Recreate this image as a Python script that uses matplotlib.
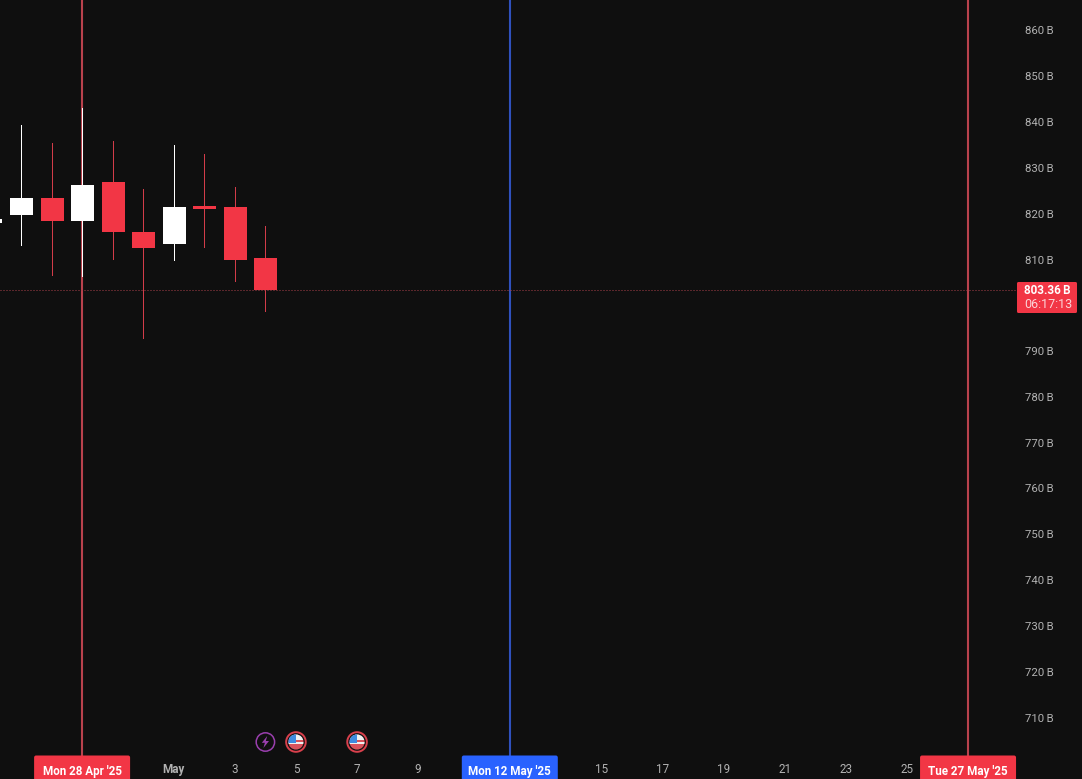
from datetime import datetime

import matplotlib
matplotlib.use("Agg")
import matplotlib.pyplot as plt
import matplotlib.dates as mdates
from matplotlib.patches import Circle, FancyBboxPatch, Polygon, Rectangle
from matplotlib.transforms import IdentityTransform

plt.rcParams["font.family"] = ["Roboto", "DejaVu Sans"]

# candles
dates = ["2025-04-25", "2025-04-26", "2025-04-27", "2025-04-28", "2025-04-29",
         "2025-04-30", "2025-05-01", "2025-05-02", "2025-05-03", "2025-05-04"]
opens = [818.0, 819.72, 823.43, 818.41, 826.92, 816.0, 813.38, 821.68, 821.46, 810.33]
closes = [818.8, 823.43, 818.41, 826.27, 816.0, 812.5, 821.46, 821.03, 809.9, 803.36]
highs = [818.8, 839.37, 835.44, 843.08, 835.87, 825.39, 835.0, 833.03, 825.83, 817.32]
lows = [818.0, 813.17, 806.62, 806.4, 810.1, 792.86, 809.9, 812.73, 805.3, 798.76]

last_price = 803.36
price_label = "803.36\u2009B"
countdown = "06:17:13"

# axis labels
price_ticks = [710, 720, 730, 740, 750, 760, 770, 780, 790, 810, 820, 830, 840, 850, 860]
time_ticks = ["2025-05-01", "2025-05-03", "2025-05-05", "2025-05-07", "2025-05-09",
              "2025-05-15", "2025-05-17", "2025-05-19", "2025-05-21", "2025-05-23", "2025-05-25"]
time_labels = ["May", "3", "5", "7", "9", "15", "17", "19", "21", "23", "25"]

# marked dates
marker_dates = ["2025-04-28", "2025-05-12", "2025-05-27"]
marker_labels = ["Mon 28 Apr '25", "Mon 12 May '25", "Tue 27 May '25"]
marker_colors = ["#f23645", "#2962ff", "#f23645"]
line_colors = ["#b9424d", "#2f51bd", "#b9424d"]

# events
power_dates = ["2025-05-04"]
flag_dates = ["2025-05-05", "2025-05-07"]

BG = "#0f0f0f"
RED = "#f23645"
WICK_RED = "#d23c49"
TEXT = "#b2b2b2"
SNAP = 0.0164  # half a pixel in days, thin lines land on the same pixel column as the target


def num(d):
    return mdates.date2num(datetime.fromisoformat(d))


fig = plt.figure(figsize=(10.82, 7.79), dpi=100, facecolor=BG)
ax = fig.add_axes([0, 0, 1, 1], facecolor=BG)

x0 = num("2025-04-28")
ax.set_xlim(x0 - 82.6 / 30.55, x0 + (1082 - 82.6) / 30.55)
ax.set_ylim(860 - 748.5 / 4.58, 860 + 30.5 / 4.58)

for d, c in zip(marker_dates, line_colors):
    ax.axvline(num(d) - SNAP, color=c, linewidth=1.5, zorder=2)

for d, o, c, h, l in zip(dates, opens, closes, highs, lows):
    up = c >= o
    ax.vlines(num(d) - SNAP, l, h, color="white" if up else WICK_RED, linewidth=0.72, zorder=3,
              antialiased=False)
    ax.bar(num(d), abs(c - o), bottom=min(o, c), width=0.753, color="white" if up else RED,
           linewidth=0, zorder=3)

price_line = ax.axhline(last_price, xmax=1017 / 1082, color="#a8404a", linewidth=0.72,
                        linestyle=(0, (1, 2)), zorder=4)
price_line.set_snap(True)

ax.yaxis.tick_right()
ax.set_yticks(price_ticks)
ax.set_yticklabels([f"{p}\u2009B" for p in price_ticks])
ax.tick_params(axis="y", length=0, pad=-41, labelsize=8.2, labelcolor=TEXT)
for lab in ax.get_yticklabels():
    lab.set_horizontalalignment("left")

ax.set_xticks([num(d) - SNAP for d in time_ticks])
ax.set_xticklabels(time_labels)
ax.tick_params(axis="x", length=0, pad=-11.5, labelsize=8.4, labelcolor=TEXT)
ax.get_xticklabels()[0].set_fontweight("bold")

for s in ax.spines.values():
    s.set_visible(False)

# everything below is placed in pixels so the badges keep their shape
px = IdentityTransform()
fig.canvas.draw()


def to_px(d):
    return ax.transData.transform((num(d) - SNAP, last_price))[0]


for d, label, c in zip(marker_dates, marker_labels, marker_colors):
    cx = to_px(d)
    box = FancyBboxPatch((cx - 46.5, -8), 93, 30, boxstyle="round,pad=1.5,rounding_size=2",
                         facecolor=c, edgecolor="none", transform=px, zorder=6, clip_on=False)
    ax.add_patch(box)
    ax.text(cx, 7.5, label, color="white", fontsize=8.4, fontweight="bold", ha="center", va="center",
            transform=px, zorder=7)

# last price badge
y_price = ax.transData.transform((x0, last_price))[1]
ax.add_patch(FancyBboxPatch((1018, 779 - 312), 58, 29, boxstyle="round,pad=1,rounding_size=1.5",
                            facecolor=RED, edgecolor="none", transform=px, zorder=6))
ax.text(1047, y_price - 0.5, price_label, color="white", fontsize=8.4, fontweight="bold",
        ha="center", va="center", transform=px, zorder=7)
ax.text(1048, y_price - 15, countdown, color="#fbd5d8", fontsize=9,
        ha="center", va="center", transform=px, zorder=7)

# event icons
icon_y = 779 - 742
for d in power_dates:
    cx = to_px(d)
    ax.add_patch(Circle((cx, icon_y), 9.2, facecolor=BG, edgecolor="#9a3fae", linewidth=1.1,
                        transform=px, zorder=6))
    bolt = [(1.8, 6), (-3.6, -0.8), (-0.5, -0.8), (-2, -6), (3.6, 1), (0.4, 1)]
    ax.add_patch(Polygon([(cx + a, icon_y + b) for a, b in bolt], facecolor="#9a3fae",
                         edgecolor="none", transform=px, zorder=7))

for d in flag_dates:
    cx = to_px(d)
    ax.add_patch(Circle((cx, icon_y), 9.8, facecolor=BG, edgecolor="#d9404c", linewidth=1.4,
                        transform=px, zorder=6))
    clip = Circle((cx, icon_y), 7.6, transform=px)
    parts = [
        (-8, -8, 16, 6, "#d9535c"),
        (-8, -2, 16, 2.2, "#f0f0f0"),
        (-8, 0.2, 16, 2, "#d9535c"),
        (-8, 2.2, 16, 6, "#f0f0f0"),
        (-8, -0.5, 8, 8.5, "#3d8be0"),
    ]
    for a, b, w, h, c in parts:
        r = Rectangle((cx + a, icon_y + b), w, h, facecolor=c, edgecolor="none", transform=px, zorder=7)
        ax.add_patch(r)
        r.set_clip_path(clip)

fig.savefig("out.png", dpi=100, facecolor=BG)
